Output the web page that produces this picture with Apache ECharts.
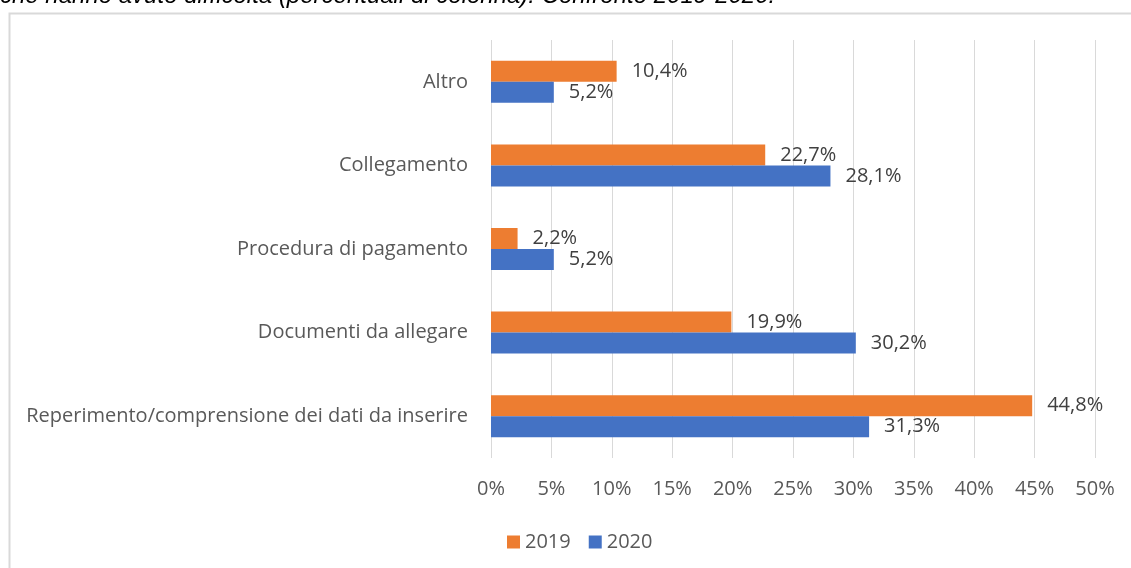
<!DOCTYPE html>
<html>
<head>
<meta charset="utf-8">
<script src="https://cdn.jsdelivr.net/npm/echarts@6/dist/echarts.min.js"></script>
<style>
  html, body { margin: 0; padding: 0; background: #fff; }
  #chart { width: 1131px; height: 568px; }
</style>
</head>
<body>
<div id="chart"></div>
<script>
// categorie dall'alto in basso
var categories = ['Altro', 'Collegamento', 'Procedura di pagamento', 'Documenti da allegare', 'Reperimento/comprensione dei dati da inserire'];
var values2019 = [10.4, 22.7, 2.2, 19.9, 44.8];
var values2020 = [5.2, 28.1, 5.2, 30.2, 31.3];
var seriesNames = ['2019', '2020'];
var titleText = 'che hanno avuto difficoltà (percentuali di colonna). Confronto 2019-2020.';

var font = 'Open Sans';
var chart = echarts.init(document.getElementById('chart'));

function pct(p) {
  return String(p.value.toFixed(1)).replace('.', ',') + '%';
}

var option = {
  animation: false,
  textStyle: { fontFamily: font },
  graphic: [
    {
      type: 'rect',
      shape: { x: 9.5, y: 13.5, width: 1200, height: 700 },
      style: { fill: 'none', stroke: '#d9d9d9', lineWidth: 2 }
    },
    {
      type: 'text',
      x: 0, y: -4,
      style: {
        text: titleText,
        font: 'italic 24px "Liberation Sans"',
        fill: '#000',
        verticalAlign: 'middle'
      }
    }
  ],
  legend: {
    left: 502, top: 527,
    itemWidth: 13, itemHeight: 13, itemGap: 18,
    icon: 'rect',
    textStyle: { fontSize: 20, color: '#595959', fontFamily: font },
    data: seriesNames
  },
  grid: { left: 491, right: 36, top: 40, bottom: 110, containLabel: false },
  xAxis: {
    type: 'value', min: 0, max: 50, interval: 5,
    axisLine: { show: false }, axisTick: { show: false },
    splitLine: { lineStyle: { color: '#d9d9d9', width: 1 } },
    axisLabel: { formatter: '{value}%', fontSize: 20, color: '#595959', margin: 21 }
  },
  yAxis: {
    type: 'category', data: categories, inverse: true,
    axisLine: { show: false }, axisTick: { show: false },
    axisLabel: { fontSize: 20, color: '#595959', margin: 23 }
  },
  series: [
    {
      name: seriesNames[0], type: 'bar', data: values2019,
      barWidth: 21, barGap: '0%',
      itemStyle: { color: '#ed7d31' },
      label: { show: true, position: 'right', distance: 15, formatter: pct, fontSize: 20, color: '#404040' }
    },
    {
      name: seriesNames[1], type: 'bar', data: values2020,
      barWidth: 21, barGap: '0%',
      itemStyle: { color: '#4472c4' },
      label: { show: true, position: 'right', distance: 15, formatter: pct, fontSize: 20, color: '#404040' }
    }
  ]
};
chart.setOption(option);
</script>
</body>
</html>
